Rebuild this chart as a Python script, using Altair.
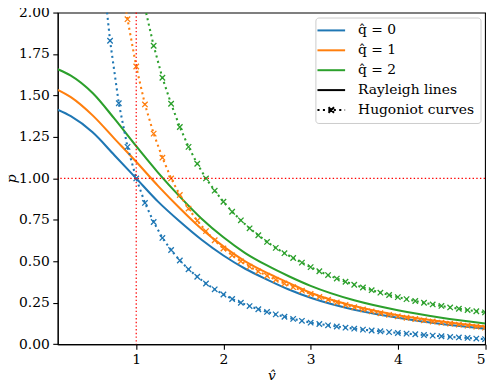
import altair as alt
import pandas as pd

BLUE, ORANGE, GREEN = "#1f77b4", "#ff7f0e", "#2ca02c"
FONT = "'DejaVu Serif', 'Liberation Serif', serif"
FS = 13.9

q_labels = ["q̂ = 0", "q̂ = 1", "q̂ = 2"]
q_colors = [BLUE, ORANGE, GREEN]

# Rayleigh (solid) curves
ray_v = [0.1, 0.25, 0.5, 0.75, 1.0, 1.25, 1.5, 1.75, 2.0, 2.25, 2.5, 2.75, 3.0, 3.5, 4.0, 4.5, 5.0]
ray_q0 = [1.414, 1.375, 1.278, 1.14, 1.0, 0.86, 0.74, 0.63, 0.535, 0.455, 0.39, 0.33, 0.28, 0.208, 0.16, 0.122, 0.094]
ray_q1 = [1.534, 1.49, 1.38, 1.24, 1.10, 0.955, 0.82, 0.695, 0.59, 0.50, 0.43, 0.37, 0.31, 0.23, 0.175, 0.137, 0.106]
ray_q2 = [1.658, 1.62, 1.515, 1.36, 1.194, 1.035, 0.89, 0.757, 0.645, 0.55, 0.475, 0.41, 0.352, 0.265, 0.205, 0.16, 0.125]

# Hugoniot (dotted, x markers) curves, sampled every 0.1 in v
hug_v = [0.6, 0.7, 0.8, 0.9, 1.0, 1.1, 1.2, 1.3, 1.4, 1.5, 1.6, 1.7, 1.8, 1.9, 2.0,
         2.1, 2.2, 2.3, 2.4, 2.5, 2.6, 2.7, 2.8, 2.9, 3.0, 3.1, 3.2, 3.3, 3.4, 3.5,
         3.6, 3.7, 3.8, 3.9, 4.0, 4.1, 4.2, 4.3, 4.4, 4.5, 4.6, 4.7, 4.8, 4.9, 5.0]
hug_q0 = [2.33, 1.83, 1.453, 1.19, 1.0, 0.852, 0.737, 0.641, 0.568, 0.505, 0.452, 0.407, 0.366, 0.331, 0.30,
          0.273, 0.25, 0.23, 0.211, 0.195, 0.18, 0.166, 0.153, 0.141, 0.13, 0.122, 0.114, 0.107, 0.1, 0.094,
          0.088, 0.083, 0.078, 0.073, 0.068, 0.064, 0.06, 0.056, 0.052, 0.048, 0.044, 0.041, 0.038, 0.034, 0.031]
hug_q1 = [2.3, 1.96, 1.675, 1.446, 1.27, 1.125, 1.0, 0.90, 0.818, 0.745, 0.682, 0.627, 0.577,
          0.536, 0.50, 0.468, 0.439, 0.413, 0.389, 0.366, 0.344, 0.323, 0.303, 0.285, 0.268, 0.252, 0.237, 0.223,
          0.21, 0.198, 0.187, 0.177, 0.168, 0.16, 0.152, 0.144, 0.137, 0.13, 0.124, 0.118, 0.112, 0.106, 0.10]
hug_q2 = [2.03, 1.80, 1.607, 1.45, 1.31, 1.19, 1.088, 1.0, 0.926, 0.859,
          0.799, 0.747, 0.699, 0.657, 0.617, 0.581, 0.549, 0.52, 0.492, 0.465, 0.44, 0.417, 0.396, 0.377, 0.359,
          0.342, 0.326, 0.311, 0.297, 0.284, 0.272, 0.261, 0.25, 0.24, 0.231, 0.222, 0.214, 0.206, 0.199, 0.192]

ref_v = [1.0]
ref_p = [1.0]

x_ticks = [1, 2, 3, 4, 5]
y_ticks = [0, 0.25, 0.5, 0.75, 1.0, 1.25, 1.5, 1.75, 2.0]

legend_keys = q_labels + ["Rayleigh lines", "Hugoniot curves"]
legend_colors = q_colors + ["black", "black"]

# build tables
ray_rows = []
for lab, vals in zip(q_labels, [ray_q0, ray_q1, ray_q2]):
    for v, p in zip(ray_v, vals):
        ray_rows.append({"v": v, "p": p, "q": lab})
ray_df = pd.DataFrame(ray_rows)

hug_rows = []
for lab, vals in zip(q_labels, [hug_q0, hug_q1, hug_q2]):
    vv = hug_v[len(hug_v) - len(vals):]
    for v, p in zip(vv, vals):
        hug_rows.append({"v": v, "p": p, "q": lab})
hug_df = pd.DataFrame(hug_rows)

leg_df = pd.DataFrame({"key": legend_keys, "v": [-1.0] * 5, "p": [1.0] * 5})

X_PATH = "M-1,-1L1,1M-1,1L1,-1"
LINE_SYM = "M-2.78,0H2.78"
HUG_SYM = ("M-2.78,0H-2.36M-1.68,0H-1.27M-0.59,0H-0.17M0.51,0H0.92M1.6,0H2.02M2.7,0H2.78"
           "M-0.56,-0.56L0.56,0.56M-0.56,0.56L0.56,-0.56")
legend_shapes = [LINE_SYM, LINE_SYM, LINE_SYM, LINE_SYM, HUG_SYM]

x_enc = alt.X("v:Q", scale=alt.Scale(domain=[0.1, 5], nice=False, zero=False),
              axis=alt.Axis(values=x_ticks, format="d", title="v̂", titlePadding=2))
y_enc = alt.Y("p:Q", scale=alt.Scale(domain=[0, 2], nice=False, zero=False),
              axis=alt.Axis(values=y_ticks, format=".2f", title="p̂", titlePadding=0))
color_q = alt.Color("q:N", scale=alt.Scale(domain=q_labels, range=q_colors), legend=None)

ray = alt.Chart(ray_df).mark_line(strokeWidth=2.08, interpolate="monotone", clip=True).encode(
    x=x_enc, y=y_enc, color=color_q, detail="q:N")

hug_line = alt.Chart(hug_df).mark_line(strokeWidth=2.08, strokeDash=[2.08, 3.43], clip=True).encode(
    x="v:Q", y="p:Q", color=color_q, detail="q:N")

hug_pts = alt.Chart(hug_df).mark_point(shape=X_PATH, size=30, filled=False, strokeWidth=1.3,
                                       opacity=1, clip=True).encode(
    x="v:Q", y="p:Q", color=color_q)

ref_h = alt.Chart(pd.DataFrame({"p": ref_p})).mark_rule(color="#ff0000", strokeWidth=1.2,
                                                       strokeDash=[1.4, 2.3]).encode(y="p:Q")
ref_vl = alt.Chart(pd.DataFrame({"v": ref_v})).mark_rule(color="#ff0000", strokeWidth=1.2,
                                                        strokeDash=[1.4, 2.3]).encode(x="v:Q")

leg = alt.Legend(title=None, orient="top-right", offset=5, fillColor="rgba(255,255,255,0.8)",
                 strokeColor="#cccccc", cornerRadius=3, padding=6,
                 labelFont=FONT, labelFontSize=FS, labelColor="black",
                 symbolOffset=3, labelOffset=20, rowPadding=5.0, symbolStrokeWidth=2)

legend_layer = alt.Chart(leg_df).mark_point(filled=False, size=100, strokeWidth=2, opacity=1,
                                            clip=True).encode(
    x="v:Q", y="p:Q",
    color=alt.Color("key:N", scale=alt.Scale(domain=legend_keys, range=legend_colors), legend=leg),
    shape=alt.Shape("key:N", scale=alt.Scale(domain=legend_keys, range=legend_shapes), legend=leg),
)

chart = alt.layer(ray, hug_line, hug_pts, ref_h, ref_vl, legend_layer).resolve_scale(
    color="independent", shape="independent"
).properties(
    width=429.5, height=333.4,
    padding={"left": 50, "top": 3.6, "right": 5, "bottom": 40},
    autosize=alt.AutoSizeParams(type="none"),
).configure_view(
    stroke="black", strokeWidth=1.1
).configure_axis(
    labelFont=FONT, labelFontSize=FS, labelColor="black",
    titleFont=FONT, titleFontSize=FS, titleColor="black", titleFontWeight="normal", titleFontStyle="italic",
    tickColor="black", tickSize=5, tickWidth=1.1, domainColor="black", domainWidth=1.1,
    labelPadding=3.5, grid=False,
)

chart.save("out.html", embed_options={"renderer": "svg", "actions": False})
